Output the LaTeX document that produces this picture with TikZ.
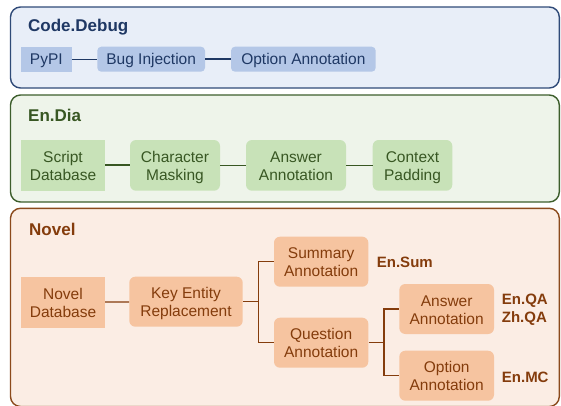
\documentclass[tikz,border=0pt]{standalone}
\usepackage{fontspec}
\setmainfont{Liberation Sans}
% two centred lines: first baseline 2.8pt above the node centre
\newcommand\twol[2]{\raisebox{2.8pt}[0pt][0pt]{\vtop{\halign{\hfil##\hfil\cr #1\cr #2\cr}}}}
% one line: baseline 5.5pt below the node centre
\newcommand\onel[1]{\raisebox{-5.5pt}[0pt][0pt]{#1}}
\begin{document}
\begin{tikzpicture}[x=1pt,y=-1pt,
  panel/.style={draw=#1, line width=1.4pt, rounded corners=10pt},
  ttl/.style={anchor=base west, font=\fontsize{17}{20}\selectfont\bfseries, inner sep=0},
  lbl/.style={anchor=west, font=\fontsize{15}{18}\selectfont\bfseries, inner sep=0},
  box/.style={inner sep=0, font=\fontsize{15.5}{18}\selectfont},
  bluebox/.style={box, fill=bnode, text=btext},
  greenbox/.style={box, fill=gnode, text=gtext},
  brownbox/.style={box, fill=onode, text=otext},
  thinline/.style={line width=1.2pt},
  thickline/.style={line width=2pt}
]
\definecolor{bpanel}{HTML}{E8EEF8}
\definecolor{bborder}{HTML}{2F4A78}
\definecolor{bnode}{HTML}{B4C7E7}
\definecolor{btext}{HTML}{1F3864}
\definecolor{gpanel}{HTML}{EEF4EA}
\definecolor{gborder}{HTML}{3D5E2C}
\definecolor{gnode}{HTML}{C8E2B8}
\definecolor{gtext}{HTML}{385723}
\definecolor{opanel}{HTML}{FBEDE4}
\definecolor{oborder}{HTML}{8B4A1C}
\definecolor{onode}{HTML}{F6C4A0}
\definecolor{otext}{HTML}{843C0C}

\useasboundingbox (0,0) rectangle (561,405);

% ---------------- Code.Debug ----------------
\draw[panel=bborder, fill=bpanel] (10.5,7) rectangle (559.3,88);
\node[ttl, text=btext] (tcd) at (28,31.5) {Code.Debug};
\node[bluebox, minimum width=50.7, minimum height=25] (pypi) at (46.35,59.2) {\onel{PyPI}};
\node[bluebox, rounded corners=4pt, minimum width=107.7, minimum height=25] (bug) at (151.15,59.2) {\onel{Bug Injection}};
\node[bluebox, rounded corners=4pt, minimum width=144.7, minimum height=25] (opt) at (303.35,59.2) {\onel{Option Annotation}};
\draw[thinline, draw=btext] (pypi) -- (bug);
\draw[thickline, draw=btext] (bug) -- (opt);

% ---------------- En.Dia ----------------
\draw[panel=gborder, fill=gpanel] (10.5,95) rectangle (559.3,202);
\node[ttl, text=gtext] (ted) at (28,121.5) {En.Dia};
\node[greenbox, minimum width=84, minimum height=50.7] (sdb) at (63,165.35) {\twol{Script}{Database}};
\node[greenbox, rounded corners=6pt, minimum width=90, minimum height=50.7] (cm) at (175,165.35) {\twol{Character}{Masking}};
\node[greenbox, rounded corners=6pt, minimum width=100, minimum height=50.7] (aa) at (296,165.35) {\twol{Answer}{Annotation}};
\node[greenbox, rounded corners=6pt, minimum width=79.6, minimum height=50.7] (cp) at (412.5,165.35) {\twol{Context}{Padding}};
\draw[thickline, draw=gtext] (sdb) -- (cm);
\draw[thinline, draw=gtext] (cm) -- (aa);
\draw[thinline, draw=gtext] (aa) -- (cp);

% ---------------- Novel ----------------
\draw[panel=oborder, fill=opanel] (10.5,208.3) rectangle (559.3,406.5);
\node[ttl, text=otext] (tnv) at (29,235) {Novel};
\node[brownbox, minimum width=84, minimum height=51] (ndb) at (63,302.2) {\twol{Novel}{Database}};
\node[brownbox, rounded corners=6pt, minimum width=113.4, minimum height=50] (ker) at (186,301.7) {\twol{Key Entity}{Replacement}};
\node[brownbox, rounded corners=6pt, minimum width=94.3, minimum height=50] (sum) at (321.15,261.7) {\twol{Summary}{Annotation}};
\node[brownbox, rounded corners=6pt, minimum width=94.3, minimum height=50] (que) at (321.15,342.7) {\twol{Question}{Annotation}};
\node[brownbox, rounded corners=6pt, minimum width=94.7, minimum height=50] (ans) at (446.65,309) {\twol{Answer}{Annotation}};
\node[brownbox, rounded corners=6pt, minimum width=94.7, minimum height=50] (opa) at (446.65,375.7) {\twol{Option}{Annotation}};
\node[lbl, text=otext] (ensum) at (376.7,262.2) {En.Sum};
\node[lbl, text=otext] (enqa) at (501.7,300.3) {En.QA};
\node[lbl, text=otext] (zhqa) at (501.7,318.6) {Zh.QA};
\node[lbl, text=otext] (enmc) at (501.7,377) {En.MC};

\coordinate (b1) at (258.3,301.7);
\coordinate (b2) at (384,342.7);
\draw[thinline, draw=otext] (ndb) -- (ker);
\draw[thinline, draw=otext] (ker.east) -- (b1);
\draw[thinline, draw=otext] (b1) |- (sum.west);
\draw[thinline, draw=otext] (b1) |- (que.west);
\draw[thinline, draw=otext] (que.east) -- (b2);
\draw[thinline, draw=otext] (b2) |- (ans.west);
\draw[thinline, draw=otext] (b2) |- (opa.west);
\end{tikzpicture}
\end{document}
